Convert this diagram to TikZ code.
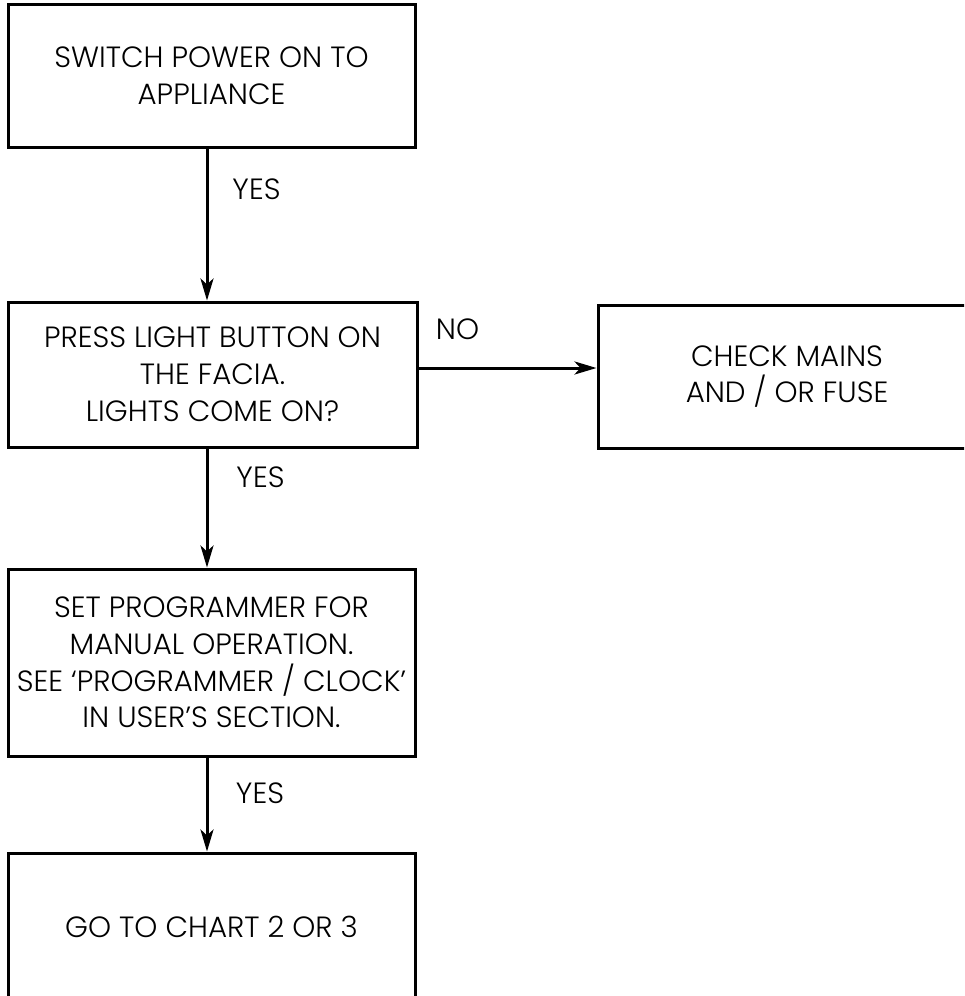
\documentclass[tikz,border=0pt]{standalone}
\usepackage{fontspec}
\setmainfont{Poppins}[UprightFont=* Light]
\usetikzlibrary{arrows.meta}
\begin{document}
\begin{tikzpicture}[x=1pt,y=-1pt,
  box/.style={draw, line width=3pt, rectangle, align=center, inner sep=0pt,
    font=\fontsize{29.3}{36.8}\selectfont},
  lbl/.style={inner sep=0pt, font=\fontsize{29.3}{36.8}\selectfont},
  arr/.style={line width=3pt, -{Stealth[length=22pt,width=13pt,inset=6pt]}}
]
\useasboundingbox (0,0) rectangle (964,996);
\clip (0,0) rectangle (964,996);
\node[box, minimum width=407pt, minimum height=143pt] (b1) at (211.5,75.5)
  {SWITCH POWER ON TO\\APPLIANCE};
\node[box, minimum width=409pt, minimum height=145pt] (b2) at (212.5,374.5)
  {PRESS LIGHT BUTTON ON\\THE FACIA.\\LIGHTS COME ON?};
\node[box, minimum width=378pt, minimum height=143pt] (b3) at (787,376.5)
  {CHECK MAINS\\AND / OR FUSE};
\node[box, minimum width=407pt, minimum height=187pt] (b4) at (211.5,662.5)
  {SET PROGRAMMER FOR\\MANUAL OPERATION.\\SEE ‘PROGRAMMER / CLOCK’\\IN USER’S SECTION.};
\node[box, minimum width=407pt, minimum height=147pt] (b5) at (211.5,926.5)
  {GO TO CHART 2 OR 3};
\coordinate (ax) at (207,0);
\coordinate (ny) at (0,368);
\draw[arr] (b1.south -| ax) -- (b2.north -| ax);
\draw[arr] (b2.south -| ax) -- (b4.north -| ax);
\draw[arr] (b4.south -| ax) -- (b5.north -| ax);
\draw[arr] (b2.east |- ny) -- (b3.west |- ny);
\node[lbl] (y1) at (256.5,189) {YES};
\node[lbl] (y2) at (260.5,477) {YES};
\node[lbl] (y3) at (260,793) {YES};
\node[lbl] (no) at (457.5,329) {NO};
\end{tikzpicture}
\end{document}
